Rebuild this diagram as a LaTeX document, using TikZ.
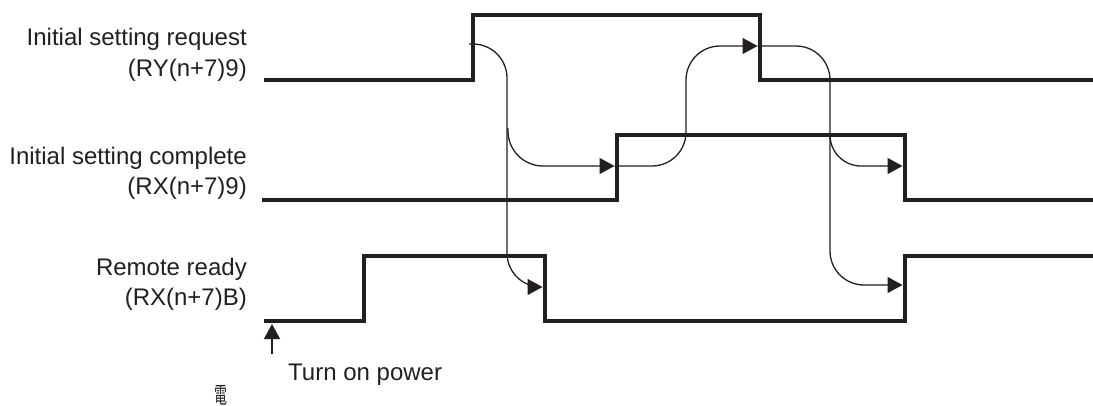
\documentclass[tikz,border=0pt]{standalone}
\usepackage{fontspec}
\setmainfont{Liberation Sans}
\newfontfamily\cjkfont{Noto Sans CJK JP}
\usetikzlibrary{arrows.meta,calc}
\definecolor{ink}{HTML}{231F20}

\begin{document}
\begin{tikzpicture}[
    x=1pt, y=-1pt,
    sig/.style={line width=4.7pt, draw=ink},
    flow/.style={line width=1.3pt, draw=ink, -{Triangle[length=15pt, width=16pt]}},
    lbl/.style={anchor=base east, inner sep=0pt, text=ink, font=\fontsize{24}{28}\selectfont}
]
\useasboundingbox (0,0) rectangle (1093,405);

% signal names
\node[lbl] (rqName) at (247,45) {Initial setting request};
\node[lbl] (rqDev) at (247,76) {(RY(n+7)9)};
\node[lbl] (cpName) at (247,164) {Initial setting complete};
\node[lbl] (cpDev) at (247,194) {(RX(n+7)9)};
\node[lbl] (rbName) at (247,275) {Remote ready};
\node[lbl] (rbDev) at (247,305) {(RX(n+7)B)};

% waveforms
\draw[sig] (264,80) -- (473,80) -- (473,15) -- (760,15) -- (760,80) -- (1093,80);
\draw[sig] (262,200) -- (617,200) -- (617,135) -- (905,135) -- (905,200) -- (1093,200);
\draw[sig] (264,321) -- (364,321) -- (364,256) -- (545,256) -- (545,321) -- (905,321) -- (905,256) -- (1093,256);

% edge points
\coordinate (rqRise) at (469,44);
\coordinate (rqFall) at (757.5,46);
\coordinate (cpRise) at (614.5,166);
\coordinate (cpFall) at (902.5,166);
\coordinate (rbFall) at (542.5,287);
\coordinate (rbRise) at (902.5,285);
\coordinate (cpTap) at (508,128);
\coordinate (rbTap) at (830,135);
\coordinate (pwrOn) at (272,324);
\coordinate (pwrTail) at (272,354);

% handshake
\draw[flow, rounded corners=34pt] (rqRise) -- (507,44) -- (507,287) -- (rbFall);
\draw[flow, rounded corners=35pt] (cpTap) -- (508,166) -- (cpRise);
\draw[flow, rounded corners=34pt] (cpRise) -- (686,166) -- (686,46) -- (rqFall);
\draw[flow, rounded corners=34pt] (rqFall) -- (830,46) -- (830,285) -- (rbRise);
\draw[flow, rounded corners=31pt] (rbTap) -- (830,166) -- (cpFall);

% power on
\draw[flow] (pwrTail) -- (pwrOn);
\node[lbl, anchor=base west] (pwrText) at (288,380) {Turn on power};
\node[anchor=north, inner sep=0pt, text=ink] (cjkMark) at (221,385) {\resizebox{13pt}{18pt}{\cjkfont 電}};
\end{tikzpicture}
\end{document}
